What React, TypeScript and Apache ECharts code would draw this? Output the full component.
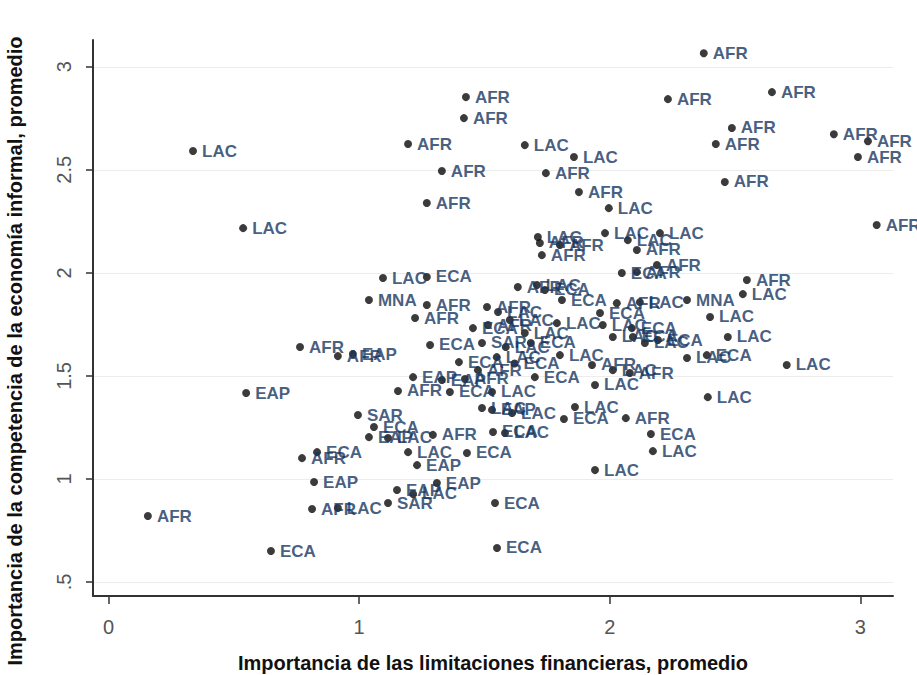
import { useEffect, useRef } from "react";
import * as echarts from "echarts";

// Region of each country observation
const regions = [
  "AFR", "AFR", "AFR", "AFR", "AFR", "AFR", "AFR", "AFR", "AFR", "AFR",
  "AFR", "AFR", "AFR", "LAC", "LAC", "AFR", "AFR", "AFR", "AFR", "LAC",
  "LAC", "LAC", "LAC", "AFR", "AFR", "AFR", "LAC", "LAC", "LAC", "AFR",
  "AFR", "ECA", "AFR", "AFR", "LAC", "MNA", "AFR", "LAC", "ECA", "LAC",
  "LAC", "LAC", "ECA", "LAC", "LAC", "ECA", "ECA", "LAC", "ECA", "LAC",
  "ECA", "LAC", "AFR", "LAC", "AFR", "ECA", "LAC", "LAC", "ECA", "MNA",
  "AFR", "AFR", "AFR", "LAC", "ECA", "AFR", "LAC", "LAC", "ECA", "AFR",
  "LAC", "LAC", "LAC", "ECA", "SAR", "ECA", "LAC", "AFR", "EAP", "ECA",
  "LAC", "LAC", "EAP", "LAC", "LAC", "ECA", "ECA", "LAC", "AFR", "EAP",
  "AFR", "AFR", "SAR", "ECA", "EAP", "LAC", "LAC", "ECA", "EAP", "AFR",
  "ECA", "EAP", "AFR", "LAC", "SAR", "EAP", "LAC", "EAP", "ECA", "ECA",
  "LAC", "AFR", "ECA", "LAC", "EAP", "AFR", "ECA", "AFR", "AFR", "EAP",
  "ECA", "LAC", "ECA",
];

// Importance of financial constraints, average
const finLimits = [
  2.375, 2.647, 2.232, 2.487, 2.423, 2.894, 3.030, 2.990, 2.459, 3.065,
  1.426, 1.418, 1.195, 1.661, 1.857, 1.330, 1.745, 1.877, 1.270, 1.996,
  0.337, 0.537, 1.713, 1.721, 1.729, 1.801, 1.981, 2.200, 2.072, 2.108,
  2.188, 2.048, 2.108, 2.547, 2.531, 2.308, 2.028, 2.120, 1.809, 2.400,
  2.471, 2.308, 2.387, 2.706, 2.391, 1.961, 2.088, 2.012, 2.092, 2.140,
  2.192, 1.801, 1.929, 2.012, 2.080, 1.701, 1.941, 1.095, 1.270, 1.039,
  1.270, 1.223, 1.633, 1.709, 1.741, 1.510, 1.554, 1.601, 1.454, 1.514,
  1.661, 1.789, 1.972, 1.283, 1.490, 1.398, 1.549, 1.474, 1.330, 1.362,
  1.530, 1.490, 1.530, 1.610, 1.861, 1.817, 1.534, 1.582, 1.294, 1.215,
  1.422, 1.155, 0.995, 1.059, 1.039, 1.115, 1.195, 1.430, 1.231, 0.772,
  0.832, 0.820, 0.812, 0.915, 1.115, 1.151, 1.215, 1.310, 1.542, 1.550,
  1.941, 2.064, 2.164, 2.172, 0.549, 0.157, 0.648, 0.764, 0.915, 0.975,
  1.685, 1.585, 1.620,
];

// Importance of competition from the informal economy, average
const informalComp = [
  3.066, 2.877, 2.843, 2.703, 2.625, 2.673, 2.639, 2.562, 2.441, 2.232,
  2.853, 2.751, 2.625, 2.620, 2.562, 2.494, 2.484, 2.392, 2.339, 2.314,
  2.591, 2.217, 2.174, 2.145, 2.086, 2.135, 2.193, 2.193, 2.159, 2.111,
  2.038, 1.999, 2.004, 1.965, 1.897, 1.868, 1.853, 1.858, 1.868, 1.786,
  1.689, 1.587, 1.601, 1.553, 1.397, 1.805, 1.732, 1.689, 1.689, 1.660,
  1.674, 1.601, 1.553, 1.528, 1.514, 1.494, 1.456, 1.975, 1.980, 1.868,
  1.844, 1.781, 1.931, 1.941, 1.917, 1.834, 1.810, 1.771, 1.732, 1.747,
  1.708, 1.756, 1.747, 1.650, 1.660, 1.567, 1.591, 1.528, 1.480, 1.422,
  1.422, 1.344, 1.335, 1.320, 1.349, 1.291, 1.228, 1.223, 1.214, 1.494,
  1.485, 1.427, 1.310, 1.252, 1.203, 1.199, 1.130, 1.126, 1.067, 1.101,
  1.130, 0.985, 0.854, 0.859, 0.883, 0.946, 0.927, 0.980, 0.883, 0.665,
  1.043, 1.295, 1.218, 1.135, 1.417, 0.820, 0.650, 1.640, 1.596, 1.606,
  1.660, 1.640, 1.560,
];

const xTicks = [0, 1, 2, 3];
const yTicks = [0.5, 1, 1.5, 2, 2.5, 3];
const yTickLabels = [".5", "1", "1.5", "2", "2.5", "3"];

const xTitle = "Importancia de las limitaciones financieras, promedio";
const yTitle = "Importancia de la competencia de la economía informal, promedio";

const FONT = "'Liberation Sans', Arial, sans-serif";
const AXIS_COLOR = "#333333";

export default function App() {
  const ref = useRef<HTMLDivElement>(null);

  useEffect(() => {
    if (!ref.current) return;
    const chart = echarts.init(ref.current, null, { renderer: "svg" });

    const data = regions.map((r, i) => ({
      name: r,
      value: [finLimits[i], informalComp[i]],
    }));

    chart.setOption({
      animation: false,
      backgroundColor: "#ffffff",
      grid: {
        left: 93,
        right: 24,
        top: 40,
        bottom: 79,
        containLabel: false,
        outerBoundsMode: "none",
      },
      xAxis: {
        type: "value",
        min: -0.062,
        max: 3.13,
        axisLine: { show: true, onZero: false, lineStyle: { color: AXIS_COLOR, width: 2 } },
        axisTick: {
          show: true,
          customValues: xTicks,
          length: 8,
          lineStyle: { color: AXIS_COLOR, width: 1.5 },
        },
        axisLabel: {
          customValues: xTicks,
          fontSize: 20,
          color: "#555555",
          fontFamily: FONT,
          margin: 21,
        },
        splitLine: { show: false },
        name: xTitle,
        nameLocation: "middle",
        nameGap: 57,
        nameTextStyle: { fontSize: 20, fontWeight: "bold", color: "#111111", fontFamily: FONT },
      },
      yAxis: {
        type: "value",
        min: 0.432,
        max: 3.13,
        axisLine: { show: true, onZero: false, lineStyle: { color: AXIS_COLOR, width: 2 } },
        axisTick: {
          show: true,
          customValues: yTicks,
          length: 7,
          lineStyle: { color: AXIS_COLOR, width: 1.5 },
        },
        axisLabel: {
          customValues: yTicks,
          rotate: 90,
          fontSize: 20,
          color: "#555555",
          fontFamily: FONT,
          margin: 19,
          formatter: (v: number) => {
            const idx = yTicks.findIndex((t) => Math.abs(t - v) < 1e-6);
            return idx >= 0 ? yTickLabels[idx] : "";
          },
        },
        splitLine: { show: true, lineStyle: { color: "#ececec", width: 1 } },
        name: yTitle,
        nameLocation: "middle",
        nameRotate: 90,
        nameGap: 68,
        nameTextStyle: {
          fontSize: 20,
          fontWeight: "bold",
          color: "#111111",
          fontFamily: FONT,
          padding: [0, 66, 0, 0],
        },
      },
      series: [
        {
          type: "scatter",
          symbol: "circle",
          symbolSize: 8,
          itemStyle: { color: "#0a0a0a" },
          data,
          label: {
            show: true,
            position: "right",
            distance: 5,
            formatter: "{b}",
            fontSize: 17,
            fontWeight: "bold",
            color: "#163560",
            fontFamily: FONT,
          },
          emphasis: { disabled: true },
        },
      ],
    });

    return () => chart.dispose();
  }, []);

  return (
    <div
      ref={ref}
      style={{ position: "absolute", left: 0, top: 0, width: 917, height: 675 }}
    />
  );
}
